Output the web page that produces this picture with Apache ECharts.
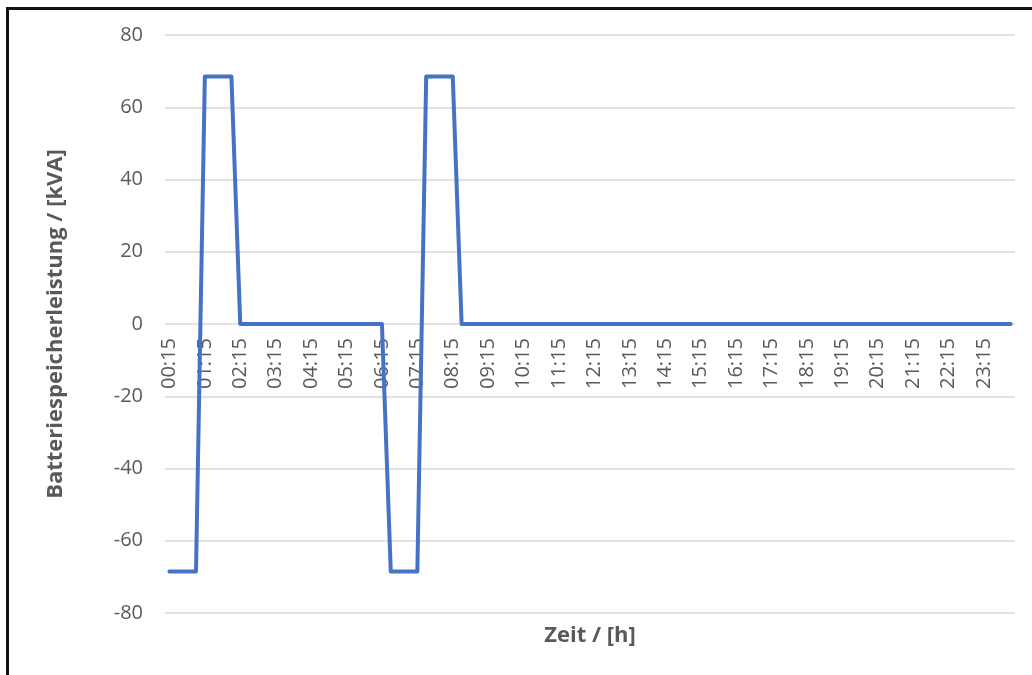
<!DOCTYPE html>
<html>
<head>
<meta charset="utf-8">
<script src="https://cdn.jsdelivr.net/npm/echarts@6/dist/echarts.min.js"></script>
<style>
html,body{margin:0;padding:0;background:#fff;}
#chart{width:1032px;height:675px;}
</style>
</head>
<body>
<div id="chart"></div>
<script>
var categories = [
'00:15','00:30','00:45','01:00','01:15','01:30','01:45','02:00',
'02:15','02:30','02:45','03:00','03:15','03:30','03:45','04:00',
'04:15','04:30','04:45','05:00','05:15','05:30','05:45','06:00',
'06:15','06:30','06:45','07:00','07:15','07:30','07:45','08:00',
'08:15','08:30','08:45','09:00','09:15','09:30','09:45','10:00',
'10:15','10:30','10:45','11:00','11:15','11:30','11:45','12:00',
'12:15','12:30','12:45','13:00','13:15','13:30','13:45','14:00',
'14:15','14:30','14:45','15:00','15:15','15:30','15:45','16:00',
'16:15','16:30','16:45','17:00','17:15','17:30','17:45','18:00',
'18:15','18:30','18:45','19:00','19:15','19:30','19:45','20:00',
'20:15','20:30','20:45','21:00','21:15','21:30','21:45','22:00',
'22:15','22:30','22:45','23:00','23:15','23:30','23:45','24:00'
];
var batteryPower = [
-68.5,-68.5,-68.5,-68.5, 68.5,68.5,68.5,68.5,
0,0,0,0,0,0,0,0,
0,0,0,0,0,0,0,0,
0,-68.5,-68.5,-68.5,-68.5, 68.5,68.5,68.5,
68.5,0,0,0,0,0,0,0,
0,0,0,0,0,0,0,0,
0,0,0,0,0,0,0,0,
0,0,0,0,0,0,0,0,
0,0,0,0,0,0,0,0,
0,0,0,0,0,0,0,0,
0,0,0,0,0,0,0,0,
0,0,0,0,0,0,0,0
];
var yMin = -80, yMax = 80, yStep = 20;
var yTitle = 'Batteriespeicherleistung / [kVA]';
var xTitle = 'Zeit / [h]';

var chart = echarts.init(document.getElementById('chart'));
var font = 'Open Sans';
var gridTop = 35, gridBottom = 62, H = 675;
var plotH = H - gridTop - gridBottom;
var zeroOffset = -plotH * (0 - yMin) / (yMax - yMin);
chart.setOption({
  animation: false,
  grid: {left: 165, right: 17, top: gridTop, bottom: gridBottom},
  xAxis: {
    type: 'category',
    data: categories,
    boundaryGap: true,
    offset: zeroOffset,
    axisLine: {show: false, onZero: false},
    axisTick: {show: false},
    axisLabel: {interval: 3, rotate: 90, color: '#595959', fontFamily: font, fontSize: 20, margin: 14},
    splitLine: {show: false}
  },
  yAxis: {
    type: 'value',
    min: yMin, max: yMax, interval: yStep,
    axisLine: {show: false},
    axisTick: {show: false},
    axisLabel: {color: '#595959', fontFamily: font, fontSize: 20, margin: 22},
    splitLine: {lineStyle: {color: '#d9d9d9', width: 1.5}},
    name: yTitle,
    nameLocation: 'middle',
    nameGap: 98,
    nameTextStyle: {color: '#595959', fontFamily: font, fontSize: 22, fontWeight: 'bold'}
  },
  series: [{
    type: 'line',
    data: batteryPower,
    symbol: 'none',
    lineStyle: {color: '#4472C4', width: 4, cap: 'round', join: 'round'}
  }],
  graphic: [
    {type: 'text', x: 590, y: 636, style: {text: xTitle, fill: '#595959', font: 'bold 22px "Open Sans"', textAlign: 'center', textVerticalAlign: 'middle'}},
    {type: 'line', shape: {x1: 7, y1: 8.5, x2: 1032, y2: 8.5}, style: {stroke: '#111', lineWidth: 3}},
    {type: 'line', shape: {x1: 7.5, y1: 7, x2: 7.5, y2: 675}, style: {stroke: '#111', lineWidth: 3}}
  ]
});
</script>
</body>
</html>
